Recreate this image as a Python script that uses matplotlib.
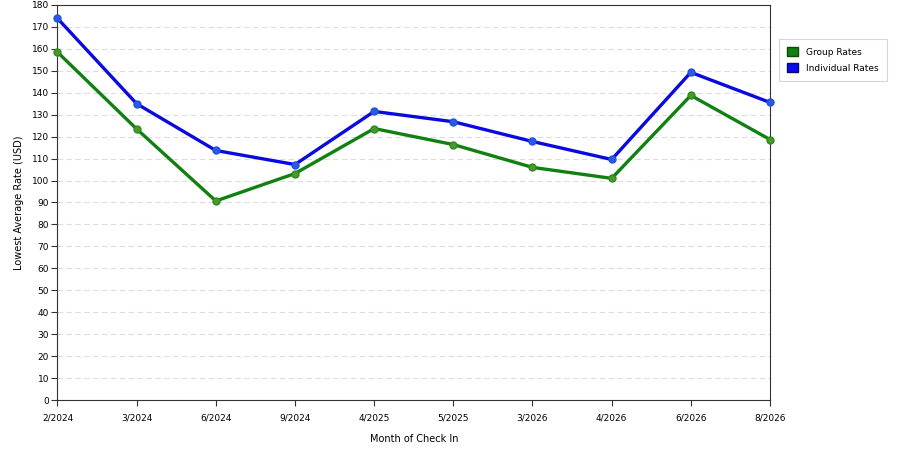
import numpy as np
import matplotlib.pyplot as plt
from matplotlib.patches import Patch

# ====== dados ======
months = ["2/2024", "3/2024", "6/2024", "9/2024", "4/2025", "5/2025",
          "3/2026", "4/2026", "6/2026", "8/2026"]
group_rates = [158.5, 123.5, 90.7, 103.2, 123.7, 116.4, 106.0, 101.0, 138.8, 118.7]
individual_rates = [173.9, 135.0, 113.7, 107.3, 131.5, 126.8, 117.8, 109.6, 149.3, 135.6]

plt.rcParams['font.family'] = ['DejaVu Sans']

fig = plt.figure(figsize=(9, 4.5), dpi=100)
ax = fig.add_axes([57.5 / 900, 50 / 450, (770 - 57.5) / 900, 395 / 450])

x = np.arange(len(months))
ax.plot(x, group_rates, color="#108010", lw=2.4, marker="o", ms=5,
        mfc="#4a9a2a", mec="#2f8a1f", zorder=3, clip_on=False)
ax.plot(x, individual_rates, color="#0a0adf", lw=2.4, marker="o", ms=5,
        mfc="#2a5ae8", mec="#2050e0", zorder=3, clip_on=False)

ax.set_xlim(0, len(months) - 1)
ax.set_ylim(0, 180)
ax.set_xticks(x)
ax.set_xticklabels(months)
ax.set_yticks(range(0, 181, 10))
ax.tick_params(axis="both", labelsize=6.5, length=4, width=0.8, color="#333333",
               direction="out", pad=2)
ax.tick_params(axis="x", pad=6)
ax.yaxis.grid(True, linestyle=(0, (5, 3)), color="#dddddd", lw=0.8)
ax.set_axisbelow(True)
for s in ax.spines.values():
    s.set_color("#333333")
    s.set_linewidth(0.8)

ax.set_xlabel("Month of Check In", fontsize=7, labelpad=8)
ax.set_ylabel("Lowest Average Rate (USD)", fontsize=7, labelpad=6)

handles = [Patch(facecolor="#108010", edgecolor="#0a4a0a", label="Group Rates"),
           Patch(facecolor="#0a0aef", edgecolor="#0a0a6a", label="Individual Rates")]
leg = fig.legend(handles=handles, loc="upper left",
                 bbox_to_anchor=(779 / 900, 1 - 39 / 450), fontsize=6.5,
                 frameon=True, fancybox=False, edgecolor="#cccccc",
                 handlelength=1.2, handleheight=1.2, handletextpad=0.9,
                 borderpad=0.9, labelspacing=0.7, borderaxespad=0)
leg.get_frame().set_linewidth(0.8)

fig.savefig("out.png", dpi=100)
